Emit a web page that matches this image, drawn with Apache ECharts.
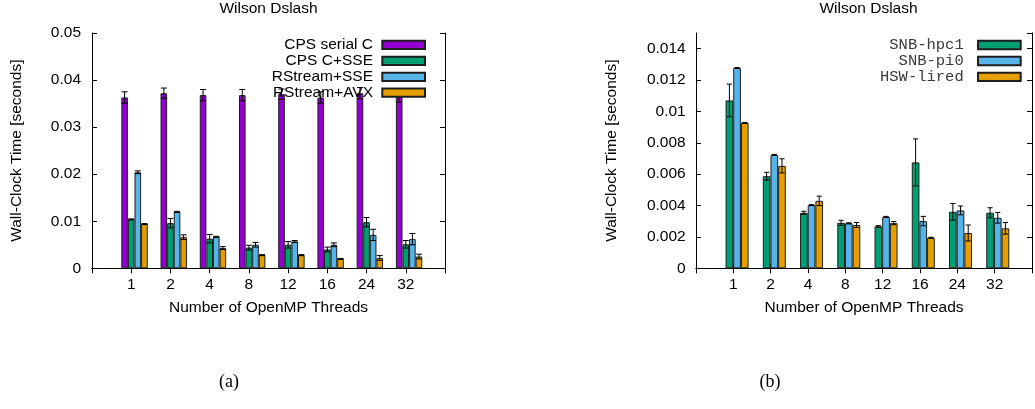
<!DOCTYPE html>
<html>
<head>
<meta charset="utf-8">
<script src="https://cdn.jsdelivr.net/npm/echarts@6/dist/echarts.min.js"></script>
<style>html,body{margin:0;padding:0;background:#fff}#c{width:1035px;height:409px}</style>
</head>
<body>
<div id="c"></div>
<script>
// ---- data ----
const categories = ['1', '2', '4', '8', '12', '16', '24', '32'];

// panel (a)
const cpsSerial    = [0.0363, 0.0372, 0.0368, 0.0368, 0.0370, 0.0363, 0.0372, 0.0365];
const cpsSerialErr = [0.0012, 0.0011, 0.0012, 0.0012, 0.0011, 0.0012, 0.0012, 0.0012];
const cpsSse       = [0.0104, 0.0096, 0.0063, 0.0044, 0.0050, 0.0040, 0.0098, 0.0051];
const cpsSseErr    = [0.0001, 0.0010, 0.0009, 0.0005, 0.0007, 0.0005, 0.0010, 0.0008];
const rsSse        = [0.0204, 0.0120, 0.0067, 0.0050, 0.0057, 0.0050, 0.0071, 0.0062];
const rsSseErr     = [0.0003, 0.0001, 0.0001, 0.0005, 0.0002, 0.0004, 0.0012, 0.0012];
const rsAvx        = [0.0094, 0.0066, 0.0043, 0.0028, 0.0028, 0.0020, 0.0022, 0.0025];
const rsAvxErr     = [0.0001, 0.0005, 0.0003, 0.0001, 0.0001, 0.0001, 0.0005, 0.0005];

// panel (b)
const snbHpc1    = [0.0107, 0.00587, 0.00354, 0.0029, 0.00267, 0.00675, 0.0036, 0.00354];
const snbHpc1Err = [0.00104, 0.00025, 0.0001, 0.00016, 0.00005, 0.0015, 0.00053, 0.00032];
const snbPi0     = [0.01277, 0.00723, 0.00403, 0.00287, 0.00328, 0.00301, 0.00369, 0.00322];
const snbPi0Err  = [0.00003, 0.00003, 0.00003, 0.00003, 0.00003, 0.0003, 0.00028, 0.00034];
const hswLired   = [0.00927, 0.00653, 0.0043, 0.00276, 0.00288, 0.00195, 0.00225, 0.00255];
const hswLiredErr= [0.00003, 0.00045, 0.0003, 0.00016, 0.0001, 0.00003, 0.00051, 0.00037];

const yTicksA = { min: 0, max: 0.05, interval: 0.01 };
const yTicksB = { min: 0, max: 0.015, interval: 0.002 };

// ---- styling / layout ----
const SANS = "'Liberation Sans', Arial, Helvetica, sans-serif";
const MONO = "'Liberation Mono', 'Courier New', Courier, monospace";
const FS = 15.5;

const panels = [
  {
    left: 92, width: 353, ticks: yTicksA, bw: 6.6, cap: 3, nameGap: 67, labelMargin: 11,
    legendRight: 609, legendTops: [36.8, 52.8, 68.8, 84.6], legendFont: SANS, legendColor: '#000',
    series: [
      { name: 'CPS serial C', color: '#9400d3', values: cpsSerial, errs: cpsSerialErr },
      { name: 'CPS C+SSE', color: '#009e73', values: cpsSse, errs: cpsSseErr },
      { name: 'RStream+SSE', color: '#56b4e9', values: rsSse, errs: rsSseErr },
      { name: 'RStream+AVX', color: '#e69f00', values: rsAvx, errs: rsAvxErr }
    ]
  },
  {
    left: 696, width: 345, ticks: yTicksB, bw: 7.67, cap: 2.6, nameGap: 76, labelMargin: 10.3,
    legendRight: 13.3, legendTops: [37, 53, 68.8], legendFont: MONO, legendColor: '#3a3a3a',
    series: [
      { name: 'SNB-hpc1', color: '#009e73', values: snbHpc1, errs: snbHpc1Err },
      { name: 'SNB-pi0', color: '#56b4e9', values: snbPi0, errs: snbPi0Err },
      { name: 'HSW-lired', color: '#e69f00', values: hswLired, errs: hswLiredErr }
    ]
  }
];

const padCats = [''].concat(categories, ['']);
const pad = arr => [null].concat(arr, [null]);

const option = {
  backgroundColor: '#fff',
  animation: false,
  grid: [], xAxis: [], yAxis: [], series: [], legend: [],
  graphic: [
    { type: 'text', x: 268.5, y: 8.5, style: { text: 'Wilson Dslash', font: FS + 'px ' + SANS, fill: '#000', textAlign: 'center', textVerticalAlign: 'middle' } },
    { type: 'text', x: 868.5, y: 8.5, style: { text: 'Wilson Dslash', font: FS + 'px ' + SANS, fill: '#000', textAlign: 'center', textVerticalAlign: 'middle' } },
    { type: 'text', x: 229, y: 382, style: { text: '(a)', font: "18px 'Liberation Serif', 'Times New Roman', serif", fill: '#000', textAlign: 'center', textVerticalAlign: 'middle' } },
    { type: 'text', x: 770, y: 382, style: { text: '(b)', font: "18px 'Liberation Serif', 'Times New Roman', serif", fill: '#000', textAlign: 'center', textVerticalAlign: 'middle' } }
  ]
};

const gridTop = 33, gridHeight = 235.3;
const lineStyle = { color: '#000', width: 1 };

panels.forEach((p, pi) => {
  const gA = option.grid.length;
  option.grid.push({ left: p.left, top: gridTop, width: p.width, height: gridHeight });
  const gB = option.grid.length;
  option.grid.push({ left: p.left + p.bw / 2, top: gridTop, width: p.width, height: gridHeight });

  option.xAxis.push({
    type: 'category', gridIndex: gA, data: padCats, boundaryGap: false, position: 'bottom',
    axisLine: { show: true, lineStyle }, axisTick: { show: true, inside: true, length: 5, interval: 0, lineStyle },
    axisLabel: { interval: 0, margin: 8, color: '#000', fontFamily: SANS, fontSize: FS },
    splitLine: { show: false },
    name: 'Number of OpenMP Threads', nameLocation: 'middle', nameGap: 31,
    nameTextStyle: { color: '#000', fontFamily: SANS, fontSize: FS }
  });
  option.xAxis.push({
    type: 'category', gridIndex: gA, data: padCats, boundaryGap: false, position: 'top',
    axisLine: { show: true, lineStyle }, axisTick: { show: true, inside: true, length: 5, interval: 0, lineStyle },
    axisLabel: { show: false }, splitLine: { show: false }
  });
  const xBars = option.xAxis.length;
  option.xAxis.push({
    type: 'category', gridIndex: gB, data: padCats, boundaryGap: false, show: false
  });

  option.yAxis.push({
    type: 'value', gridIndex: gA, min: p.ticks.min, max: p.ticks.max, interval: p.ticks.interval, position: 'left',
    axisLine: { show: true, lineStyle }, axisTick: { show: true, inside: true, length: 5, lineStyle },
    axisLabel: { margin: p.labelMargin, color: '#000', fontFamily: SANS, fontSize: FS, showMaxLabel: pi === 0 },
    splitLine: { show: false },
    name: 'Wall-Clock Time [seconds]', nameLocation: 'middle', nameGap: p.nameGap,
    nameTextStyle: { color: '#000', fontFamily: SANS, fontSize: FS }
  });
  option.yAxis.push({
    type: 'value', gridIndex: gA, min: p.ticks.min, max: p.ticks.max, interval: p.ticks.interval, position: 'right',
    axisLine: { show: true, lineStyle }, axisTick: { show: true, inside: true, length: 5, lineStyle },
    axisLabel: { show: false }, splitLine: { show: false }
  });
  const yBars = option.yAxis.length;
  option.yAxis.push({
    type: 'value', gridIndex: gB, min: p.ticks.min, max: p.ticks.max, show: false
  });

  const n = p.series.length;
  p.series.forEach((s) => {
    option.series.push({
      type: 'bar', name: s.name, xAxisIndex: xBars, yAxisIndex: yBars,
      data: pad(s.values), barWidth: p.bw, barGap: '0%',
      itemStyle: { color: s.color, borderColor: '#1e1e1e', borderWidth: 1 },
      silent: true, z: 2
    });
  });
  p.series.forEach((s, j) => {
    option.series.push({
      type: 'custom', name: s.name + ' err', xAxisIndex: xBars, yAxisIndex: yBars, z: 3, silent: true,
      encode: { x: 0, y: [1, 2] },
      data: s.values.map((v, i) => [i + 1, v - s.errs[i], v + s.errs[i]]),
      renderItem: (params, api) => {
        const lo = api.coord([api.value(0), api.value(1)]);
        const hi = api.coord([api.value(0), api.value(2)]);
        const x = lo[0] + (j - (n - 1) / 2) * p.bw;
        const c = p.cap;
        const st = { stroke: '#000', lineWidth: 1 };
        return { type: 'group', children: [
          { type: 'line', shape: { x1: x, y1: lo[1], x2: x, y2: hi[1] }, style: st },
          { type: 'line', shape: { x1: x - c, y1: lo[1], x2: x + c, y2: lo[1] }, style: st },
          { type: 'line', shape: { x1: x - c, y1: hi[1], x2: x + c, y2: hi[1] }, style: st }
        ]};
      }
    });
    option.legend.push({
      data: [s.name], right: p.legendRight, top: p.legendTops[j], orient: 'horizontal', align: 'right',
      itemWidth: 42.7, itemHeight: 8.3, padding: 0, itemGap: 0, selectedMode: false, z: 10,
      icon: 'rect', formatter: nm => nm + ' ',
      textStyle: { fontFamily: p.legendFont, fontSize: FS, color: p.legendColor }
    });
  });
});

const chart = echarts.init(document.getElementById('c'), null, { renderer: 'canvas' });
chart.setOption(option);
</script>
</body>
</html>
